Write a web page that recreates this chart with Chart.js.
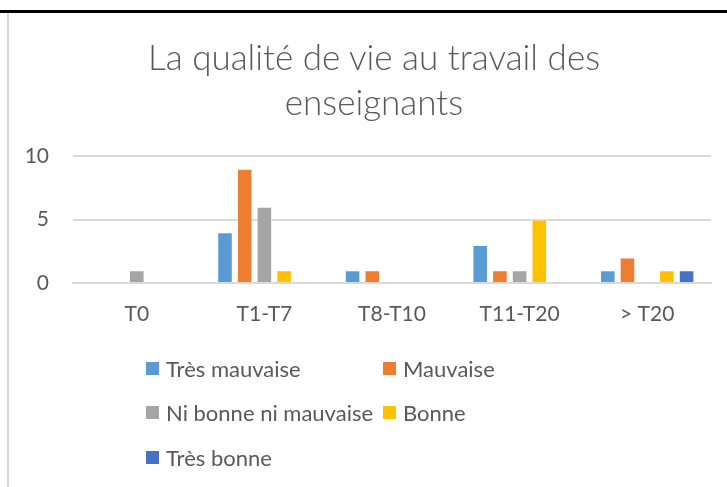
<!DOCTYPE html>
<html lang="fr">
<head>
<meta charset="utf-8">
<title>La qualité de vie au travail des enseignants</title>
<script src="https://cdn.jsdelivr.net/npm/chart.js@4/dist/chart.umd.min.js"></script>
<style>
    html, body { margin: 0; padding: 0; background: #fff; overflow: hidden; }
    #frame {
        position: relative;
        width: 727px;
        height: 487px;
        overflow: hidden;
        font-family: Lato, "Open Sans", sans-serif;
        color: #595959;
    }
    #top-rule { position: absolute; left: 0; top: 10px; width: 727px; height: 3px; background: #000; }
    #left-rule { position: absolute; left: 7px; top: 13px; width: 2px; height: 474px; background: #d9d9d9; }
    #chart-wrap { position: absolute; left: 0; top: 0; width: 744px; height: 487px; }
    /* the Excel frame is cropped on the right, so the title centre sits right of the window centre */
    #chart-title {
        position: absolute;
        left: 0;
        top: 34px;
        width: 748px;
        text-align: center;
        font-size: 35px;
        font-weight: 300;
        line-height: 45px;
    }
    #legend {
        position: absolute;
        left: 146px;
        top: 354px;
        display: grid;
        grid-template-columns: 237px auto;
        grid-auto-rows: 44.5px;
        font-size: 22px;
    }
    .legend-item { display: flex; align-items: center; height: 28px; white-space: nowrap; }
    .legend-box { width: 13px; height: 13px; margin-right: 7px; flex: none; }
</style>
</head>
<body>
<div id="frame">
    <div id="chart-wrap"><canvas id="qvt-chart" width="744" height="487"></canvas></div>
    <div id="chart-title"></div>
    <div id="top-rule"></div>
    <div id="left-rule"></div>
    <div id="legend"></div>
</div>
<script>
// Data
const categories = ['T0', 'T1-T7', 'T8-T10', 'T11-T20', '> T20'];
const seriesLabels = ['Très mauvaise', 'Mauvaise', 'Ni bonne ni mauvaise', 'Bonne', 'Très bonne'];
const tresMauvaise = [0, 4, 1, 3, 1];
const mauvaise = [0, 9, 1, 1, 2];
const niBonneNiMauvaise = [1, 6, 0, 1, 0];
const bonne = [0, 1, 0, 5, 1];
const tresBonne = [0, 0, 0, 0, 1];
const yTicks = [0, 5, 10];
const titleLines = ['La qualité de vie au travail des', 'enseignants'];

const seriesValues = [tresMauvaise, mauvaise, niBonneNiMauvaise, bonne, tresBonne];
const seriesColors = ['#5B9BD5', '#ED7D31', '#A5A5A5', '#FFC000', '#4472C4'];

const TEXT_COLOR = '#595959';
const GRID_COLOR = '#d9d9d9';

function buildDatasets() {
    return seriesLabels.map((label, i) => ({
        label,
        data: seriesValues[i],
        backgroundColor: seriesColors[i],
        borderColor: 'rgba(255,255,255,0.6)',
        borderWidth: 1,
        categoryPercentage: 0.772,
        barPercentage: 0.79
    }));
}

/**
 * Title and two-column legend as HTML, like the Excel original
 */
function renderTitle() {
    const title = document.getElementById('chart-title');
    title.innerHTML = titleLines.map(line => `<div>${line}</div>`).join('');
}

function renderLegend(chart) {
    const legend = document.getElementById('legend');
    legend.innerHTML = chart.data.datasets.map(ds => `
        <div class="legend-item">
            <span class="legend-box" style="background:${ds.backgroundColor}"></span>
            <span>${ds.label}</span>
        </div>`).join('');
}

const ctx = document.getElementById('qvt-chart').getContext('2d');
const chart = new Chart(ctx, {
    type: 'bar',
    data: {
        labels: categories,
        datasets: buildDatasets()
    },
    options: {
        responsive: false,
        animation: false,
        layout: {
            padding: { left: 4, right: 33, top: 156, bottom: 154 }
        },
        plugins: {
            legend: { display: false },
            tooltip: { enabled: false },
            title: { display: false }
        },
        scales: {
            x: {
                grid: { display: false, drawTicks: false },
                border: { color: GRID_COLOR, width: 2 },
                ticks: {
                    color: TEXT_COLOR,
                    font: { family: 'Lato', size: 21 },
                    padding: 19,
                    maxRotation: 0
                },
                afterFit: (scale) => { scale.height = 50; }
            },
            y: {
                min: yTicks[0],
                max: yTicks[yTicks.length - 1],
                afterBuildTicks: (scale) => { scale.ticks = yTicks.map(v => ({ value: v })); },
                grid: { color: GRID_COLOR, lineWidth: 2, drawTicks: false },
                border: { display: false },
                ticks: {
                    color: TEXT_COLOR,
                    font: { family: 'Lato', size: 21 },
                    padding: 24
                },
                afterFit: (scale) => { scale.width = 69; }
            }
        }
    }
});

renderTitle();
renderLegend(chart);
</script>
</body>
</html>
